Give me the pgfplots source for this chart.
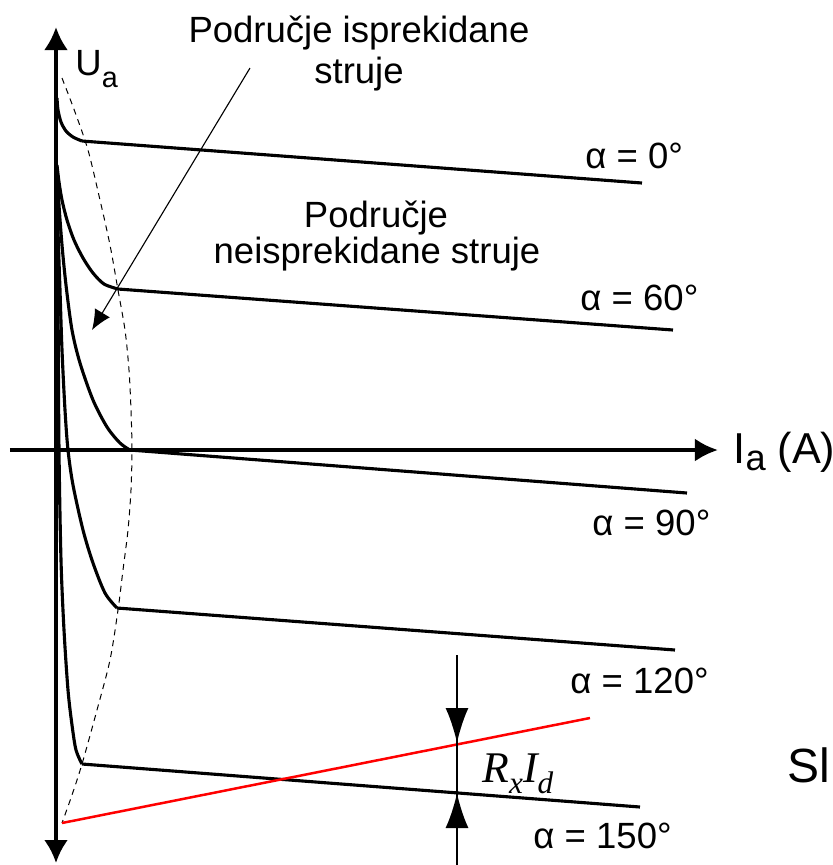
\documentclass[border=0pt]{standalone}
\usepackage{pgfplots}
\pgfplotsset{compat=1.18}
\usetikzlibrary{arrows.meta}
\usepackage{fontspec}
\setmainfont{Liberation Sans}
\newfontfamily\serif{Liberation Serif}
\newcommand\lbl{\fontsize{14.6}{17.5}\selectfont}

\begin{document}
\begin{tikzpicture}[every node/.style={inner sep=0pt}]
\begin{axis}[
    width=332.8pt, height=346pt, scale only axis,
    xmin=0, xmax=832, ymin=0, ymax=865, y dir=reverse,
    hide axis, clip=false, no markers,
]
% axes
\addplot[line width=1.5pt, {Latex[length=9.2pt,width=9.6pt]}-{Latex[length=9.2pt,width=9.6pt]}] coordinates {(56,27) (56,863)};
\addplot[line width=1.5pt, -{Latex[length=9.2pt,width=9.2pt]}] coordinates {(10,450) (718,450)};

% boundary of discontinuous region
\addplot[line width=0.4pt, dash pattern=on 2.4pt off 2pt, smooth] coordinates {
  (62,78) (75,112) (88,150) (100,200) (110,245) (118,290) (125,330) (129,370)
  (131,410) (132,450) (131,490) (128,530) (123,570) (118,610) (110,660)
  (97,710) (82,764) (72,795) (62,823)};

% alpha = 0
\addplot[line width=1.25pt, smooth] coordinates {(57,98) (58,110) (61,122) (66,131) (73,137) (82,141)};
\addplot[line width=1.25pt] coordinates {(82,141) (642,183)};
% alpha = 60
\addplot[line width=1.25pt, smooth] coordinates {(57,165) (59,182) (62,200) (67,220) (74,240) (83,258) (93,273) (104,284) (118,289)};
\addplot[line width=1.25pt] coordinates {(118,289) (673,330)};
% alpha = 90
\addplot[line width=1.25pt, smooth] coordinates {(57,168) (59,205) (62,245) (66,285) (72,330) (80,363) (93,400) (107,427) (120,443) (130,450)};
\addplot[line width=1.25pt] coordinates {(130,450) (687,493)};
% alpha = 120
\addplot[line width=1.25pt, smooth] coordinates {(57,172) (58,230) (60,290) (62,350) (65,410) (68,450) (73,485) (83,530) (93,563) (105,593) (117,608)};
\addplot[line width=1.25pt] coordinates {(117,608) (675,650)};
% alpha = 150
\addplot[line width=1.25pt, smooth] coordinates {(57,175) (58,300) (59,450) (61,560) (64,630) (68,690) (72,725) (76,750) (82,764)};
\addplot[line width=1.25pt] coordinates {(82,764) (640,807)};

% red line
\addplot[line width=1.0pt, red] coordinates {(62,823) (590,718)};

% pointer arrow
\addplot[line width=0.45pt, -{Latex[length=8pt,width=7pt]}] coordinates {(250,68) (92,330)};

% R_x I_d dimension
\addplot[line width=0.8pt] coordinates {(457,655) (457,865)};
\addplot[line width=0.8pt, -{Latex[length=14pt,width=9.2pt]}] coordinates {(457,690) (457,743)};
\addplot[line width=0.8pt, -{Latex[length=14pt,width=9.2pt]}] coordinates {(457,860) (457,793)};

% labels
\node[anchor=base west, font=\lbl] at (axis cs:75,75) {U\raisebox{-0.35em}{\fontsize{11.5}{12}\selectfont a}};
\node[anchor=base west, font=\fontsize{17.3}{20}\selectfont] at (axis cs:733,463) {I\raisebox{-2.8pt}{\fontsize{14.5}{16}\selectfont a} (A)};
\node[anchor=base, font=\lbl] at (axis cs:359,42) {Područje isprekidane};
\node[anchor=base, font=\lbl] at (axis cs:359,83) {struje};
\node[anchor=base, font=\lbl] at (axis cs:376,227) {Područje};
\node[anchor=base, font=\lbl] at (axis cs:377,263) {neisprekidane struje};
\node[anchor=base west, font=\lbl] at (axis cs:585,168) {α = 0°};
\node[anchor=base west, font=\lbl] at (axis cs:580,310) {α = 60°};
\node[anchor=base west, font=\lbl] at (axis cs:592,535) {α = 90°};
\node[anchor=base west, font=\lbl] at (axis cs:570,693) {α = 120°};
\node[anchor=base west, font=\lbl] at (axis cs:533,848) {α = 150°};
\node[anchor=base west] at (axis cs:482,782) {\serif\itshape\fontsize{17.5}{20}\selectfont R\raisebox{-4.5pt}{\fontsize{12.5}{14}\selectfont x}I\raisebox{-4.5pt}{\fontsize{12.5}{14}\selectfont d}};
\node[anchor=base west, font=\fontsize{19.2}{22}\selectfont] at (axis cs:787,782) {Sl};
\end{axis}
\pgfresetboundingbox
\useasboundingbox (0,0) rectangle (332.8pt,346pt);
\end{tikzpicture}
\end{document}
